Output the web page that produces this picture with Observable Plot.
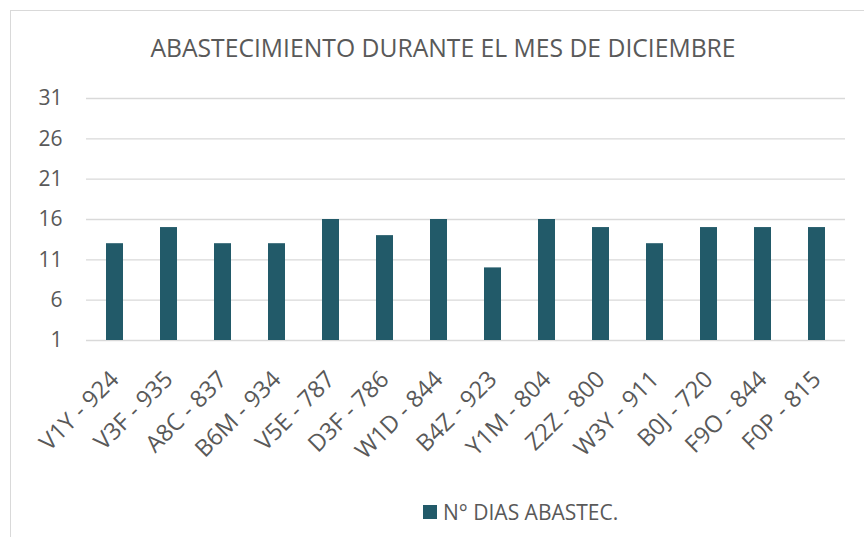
<!DOCTYPE html>
<html>
<head>
<meta charset="utf-8">
<script src="https://cdn.jsdelivr.net/npm/d3@7"></script>
<script src="https://cdn.jsdelivr.net/npm/@observablehq/plot@0.6"></script>
<style>
  html, body { margin: 0; padding: 0; background: #fff; overflow: hidden; }
  body { width: 864px; height: 537px; position: relative; font-family: "Open Sans", sans-serif; color: #595959; }
  #frame { position: absolute; left: 10px; top: 10px; width: 900px; height: 600px; border: 1.5px solid #d9d9d9; box-sizing: border-box; }
  #title { position: absolute; left: 0; top: 34px; width: 886px; text-align: center; font-size: 24.7px; line-height: 28px; color: #595959; white-space: nowrap; }
  #chart { position: absolute; left: 0; top: 70px; }
  #legend { position: absolute; left: 423px; top: 498px; display: flex; align-items: center; font-size: 21px; line-height: 28px; color: #595959; white-space: nowrap; }
  #legend .sw { width: 14px; height: 14px; background: #225a69; margin-right: 6px; }
</style>
</head>
<body>
<div id="frame"></div>
<div id="title">ABASTECIMIENTO DURANTE EL MES DE DICIEMBRE</div>
<div id="chart"></div>
<div id="legend"><span class="sw"></span><span id="legendText"></span></div>
<script>
const categorias = ["V1Y - 924", "V3F - 935", "A8C - 837", "B6M - 934", "V5E - 787", "D3F - 786", "W1D - 844", "B4Z - 923", "Y1M - 804", "Z2Z - 800", "W3Y - 911", "B0J - 720", "F9O - 844", "F0P - 815"];
const diasAbastec = [13, 15, 13, 13, 16, 14, 16, 10, 16, 15, 13, 15, 15, 15];
const yTicks = [1, 6, 11, 16, 21, 26, 31];
const serieNombre = "N° DIAS ABASTEC.";

document.getElementById("legendText").textContent = serieNombre;

const data = categorias.map((c, i) => ({cat: c, v: diasAbastec[i]}));

const chart = Plot.plot({
  width: 864,
  height: 390,
  marginLeft: 86,
  marginRight: 19,
  marginTop: 28,
  marginBottom: 120,
  style: {fontFamily: "Open Sans, sans-serif", fontSize: "21px", color: "#595959", background: "transparent", overflow: "visible"},
  x: {domain: categorias, paddingInner: 0.69, paddingOuter: 0.345, label: null},
  y: {domain: [1, 31], label: null},
  marks: [
    Plot.gridY(yTicks, {stroke: "#d9d9d9", strokeOpacity: 1, strokeWidth: 1.3}),
    Plot.barY(data, {x: "cat", y1: 1, y2: "v", fill: "#225a69"}),
    Plot.axisY(yTicks, {tickSize: 0, tickPadding: 24, label: null, fill: "#595959", fontSize: 21}),
    Plot.axisX({tickSize: 0, tickPadding: 35, tickRotate: -45, label: null, fill: "#595959", fontSize: 23.5})
  ]
});
document.getElementById("chart").appendChild(chart);
</script>
</body>
</html>
